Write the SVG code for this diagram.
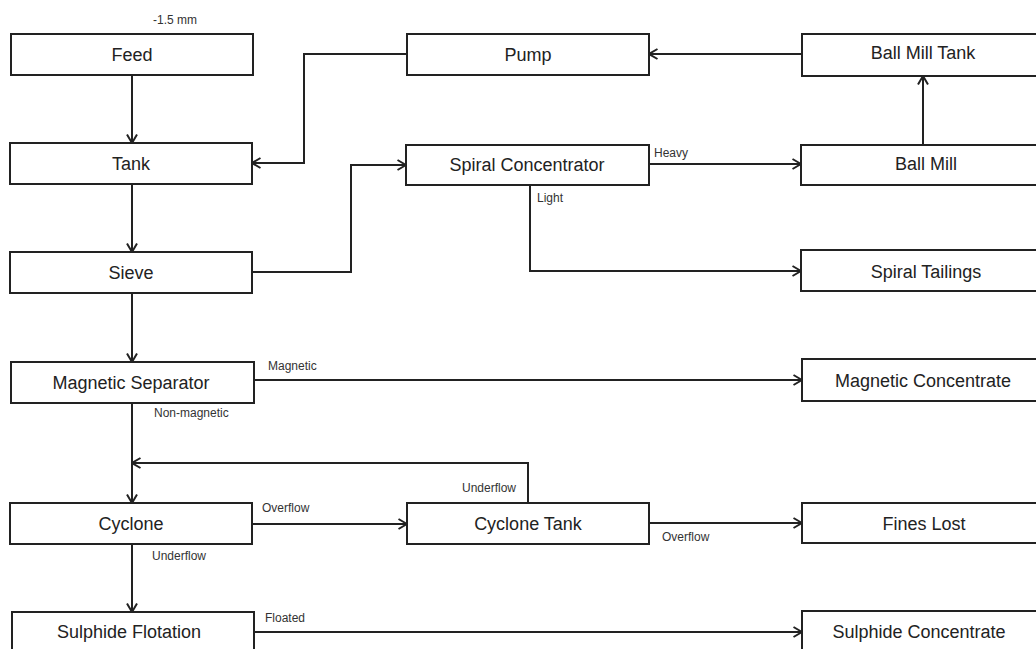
<svg xmlns="http://www.w3.org/2000/svg" width="1036" height="649" viewBox="0 0 1036 649">
<style>
.box{fill:#fff;stroke:#222;stroke-width:2}
.nt{font-family:"Liberation Sans",Arial,sans-serif;font-size:18px;fill:#222;text-anchor:middle}
.lb{font-family:"Liberation Sans",Arial,sans-serif;font-size:12px;fill:#333}
.c{fill:none;stroke:#222;stroke-width:2}
</style>
<defs>
<marker id="arr" viewBox="0 0 10 12" refX="9.5" refY="6" markerWidth="10" markerHeight="12" markerUnits="userSpaceOnUse" orient="auto">
<path d="M1,1 L9.5,6 L1,11" fill="none" stroke="#222" stroke-width="2"/>
</marker>
</defs>
<rect width="1036" height="649" fill="#fff"/>
<g id="connectors">
<path class="c" d="M132,75 V143" marker-end="url(#arr)"/>
<path class="c" d="M132,184 V252" marker-end="url(#arr)"/>
<path class="c" d="M132,293 V362" marker-end="url(#arr)"/>
<path class="c" d="M132,403 V503" marker-end="url(#arr)"/>
<path class="c" d="M132,544 V612" marker-end="url(#arr)"/>
<path class="c" d="M407,54 H304 V163 H252" marker-end="url(#arr)"/>
<path class="c" d="M252,272 H351 V165 H406" marker-end="url(#arr)"/>
<path class="c" d="M649,164 H801" marker-end="url(#arr)"/>
<path class="c" d="M530,185 V271 H801" marker-end="url(#arr)"/>
<path class="c" d="M923,145 V76" marker-end="url(#arr)"/>
<path class="c" d="M802,54 H649" marker-end="url(#arr)"/>
<path class="c" d="M254,380 H802" marker-end="url(#arr)"/>
<path class="c" d="M528,503 V463 H132" marker-end="url(#arr)"/>
<path class="c" d="M252,524 H407" marker-end="url(#arr)"/>
<path class="c" d="M649,523 H802" marker-end="url(#arr)"/>
<path class="c" d="M254,632 H802" marker-end="url(#arr)"/>
<text class="lb" x="153" y="24">-1.5 mm</text>
<text class="lb" x="654" y="157">Heavy</text>
<text class="lb" x="537" y="202">Light</text>
<text class="lb" x="268" y="370">Magnetic</text>
<text class="lb" x="154" y="417">Non-magnetic</text>
<text class="lb" x="462" y="492">Underflow</text>
<text class="lb" x="262" y="512">Overflow</text>
<text class="lb" x="152" y="560">Underflow</text>
<text class="lb" x="662" y="541">Overflow</text>
<text class="lb" x="265" y="622">Floated</text>
</g>
<g id="feed"><rect class="box" x="11" y="34" width="242" height="41"/><text class="nt" x="132" y="61">Feed</text></g>
<g id="tank"><rect class="box" x="10" y="143" width="242" height="41"/><text class="nt" x="131" y="170">Tank</text></g>
<g id="sieve"><rect class="box" x="10" y="252" width="242" height="41"/><text class="nt" x="131" y="279">Sieve</text></g>
<g id="magsep"><rect class="box" x="11" y="362" width="243" height="41"/><text class="nt" x="131" y="389">Magnetic Separator</text></g>
<g id="cyclone"><rect class="box" x="10" y="503" width="242" height="41"/><text class="nt" x="131" y="530">Cyclone</text></g>
<g id="sulphide"><rect class="box" x="12" y="612" width="242" height="45"/><text class="nt" x="129" y="638">Sulphide Flotation</text></g>
<g id="pump"><rect class="box" x="407" y="34" width="242" height="41"/><text class="nt" x="528" y="61">Pump</text></g>
<g id="spiral"><rect class="box" x="406" y="145" width="243" height="40"/><text class="nt" x="527" y="171">Spiral Concentrator</text></g>
<g id="cyclonetank"><rect class="box" x="407" y="503" width="242" height="41"/><text class="nt" x="528" y="530">Cyclone Tank</text></g>
<g id="ballmilltank"><rect class="box" x="802" y="34" width="245" height="42"/><text class="nt" x="923" y="59">Ball Mill Tank</text></g>
<g id="ballmill"><rect class="box" x="801" y="145" width="246" height="40"/><text class="nt" x="926" y="170">Ball Mill</text></g>
<g id="tailings"><rect class="box" x="801" y="250" width="246" height="41"/><text class="nt" x="926" y="278">Spiral Tailings</text></g>
<g id="magconc"><rect class="box" x="802" y="359" width="245" height="42"/><text class="nt" x="923" y="387">Magnetic Concentrate</text></g>
<g id="fines"><rect class="box" x="802" y="503" width="245" height="40"/><text class="nt" x="924" y="530">Fines Lost</text></g>
<g id="sulphconc"><rect class="box" x="802" y="611" width="245" height="46"/><text class="nt" x="919" y="638">Sulphide Concentrate</text></g>
</svg>
